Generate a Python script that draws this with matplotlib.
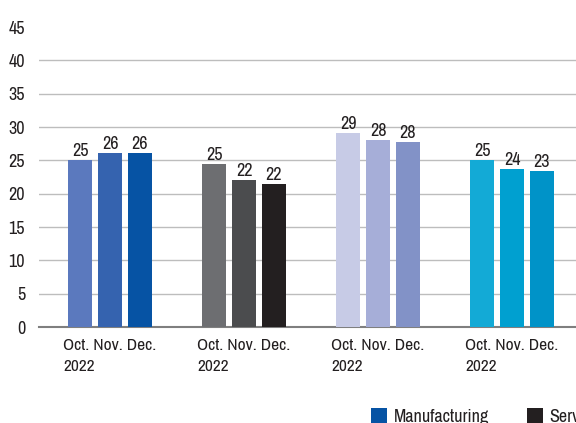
import matplotlib
matplotlib.use("Agg")
import matplotlib.pyplot as plt
from matplotlib.patches import Patch
import numpy as np

# ========== Data ==========
groups = ["Oct. Nov. Dec.\n2022"] * 4
months = ["Oct.", "Nov.", "Dec."]
heights = [
    [25.0, 26.1, 26.1],
    [24.4, 22.0, 21.4],
    [29.1, 28.0, 27.7],
    [25.0, 23.7, 23.4],
]
labels = [
    ["25", "26", "26"],
    ["25", "22", "22"],
    ["29", "28", "28"],
    ["25", "24", "23"],
]
colors = [
    ["#5B79BE", "#3563AF", "#0653A4"],
    ["#6D6E71", "#4B4C4E", "#231F20"],
    ["#C7CBE6", "#A6AED8", "#8292C7"],
    ["#13AAD6", "#00A0D0", "#0093C8"],
]
legend_names = ["Manufacturing", "Services"]
legend_colors = ["#0653A4", "#231F20"]
yticks = [0, 5, 10, 15, 20, 25, 30, 35, 40, 45]
# ==========================

plt.rcParams["font.family"] = ["Archivo Narrow", "Liberation Sans", "DejaVu Sans"]
plt.rcParams["font.size"] = 13

fig = plt.figure(figsize=(5.76, 4.23), dpi=100)
W, H = 576, 423
px_per_unit = 134.0
x_left = -0.53
x_right = 3.9
ax = fig.add_axes([39 / W, (H - 327) / H, (x_right - x_left) * px_per_unit / W, 300 / H])

pitch = 0.223
width = 0.179
x = np.arange(len(groups))
for g in range(len(groups)):
    for i in range(len(months)):
        xi = x[g] + (i - 1) * pitch
        ax.bar(xi, heights[g][i], width=width, color=colors[g][i], zorder=3)
        ax.annotate(labels[g][i], (xi, heights[g][i]), xytext=(0, 1),
                    textcoords="offset points", ha="center", va="bottom",
                    color="#231F20")

ax.set_xlim(x_left, x_right)
ax.set_ylim(0, 45)
ax.set_yticks(yticks)
ax.set_xticks(x)
ax.set_xticklabels(groups, multialignment="left", linespacing=1.5,
                   color="#231F20", fontsize=12.5)
ax.tick_params(axis="x", length=0, pad=8)
ax.tick_params(axis="y", length=0, pad=10, labelcolor="#231F20")

ax.yaxis.grid(True, color="#BDBDBD", lw=1.0, zorder=0)
gl = ax.get_ygridlines()
gl[-1].set_visible(False)
gl[0].set_visible(False)

for s in ["top", "right", "left"]:
    ax.spines[s].set_visible(False)
ax.spines["bottom"].set_color("#7F7F7F")
ax.spines["bottom"].set_linewidth(1.5)

handles = [Patch(facecolor=c, edgecolor="none") for c in legend_colors]
fig.legend(handles, legend_names, loc="upper left", bbox_to_anchor=(371 / W, 1 - 408 / H),
           ncol=2, frameon=False, borderpad=0, borderaxespad=0,
           handlelength=0.9, handleheight=0.9, handletextpad=0.35, columnspacing=2.1,
           labelcolor="#231F20")

fig.savefig("out.png", dpi=100)
